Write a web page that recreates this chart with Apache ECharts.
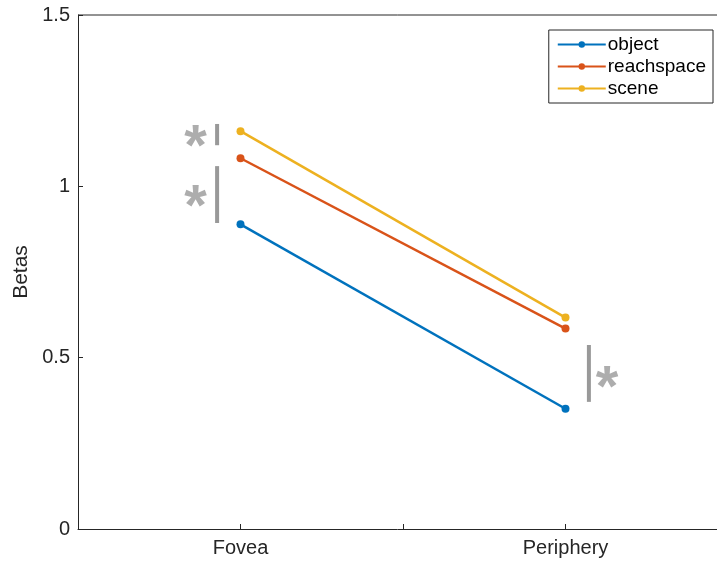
<!DOCTYPE html>
<html>
<head>
<meta charset="utf-8">
<script src="https://cdn.jsdelivr.net/npm/echarts@6/dist/echarts.min.js"></script>
<style>
html, body { margin: 0; padding: 0; background: #fff; }
#main { width: 717px; height: 561px; }
</style>
</head>
<body>
<div id="main"></div>
<script>
var categories = ['Fovea', 'Periphery'];
var categoryPos = [1, 2];
var objectVals = [0.889, 0.351];
var reachVals = [1.082, 0.585];
var sceneVals = [1.161, 0.617];
var yTicks = [0, 0.5, 1, 1.5];
var xTicks = [1, 1.5, 2];

// significance marks: [x, yFrom, yTo] and star positions [x, y]
var sigBars = [[0.928, 1.12, 1.182], [0.928, 0.893, 1.059], [2.072, 0.371, 0.537]];
var sigStars = [[0.862, 1.147], [0.862, 0.972], [2.128, 0.444]];

var chart = echarts.init(document.getElementById('main'));

function pairs(vals) {
    return vals.map(function (v, i) { return [categoryPos[i], v]; });
}

var lineSeries = [
    {name: 'object', vals: objectVals, color: '#0072BD'},
    {name: 'reachspace', vals: reachVals, color: '#D95319'},
    {name: 'scene', vals: sceneVals, color: '#EDB120'}
].map(function (s) {
    return {
        name: s.name,
        type: 'line',
        data: pairs(s.vals),
        symbol: 'circle',
        symbolSize: 8,
        itemStyle: {color: s.color},
        lineStyle: {color: s.color, width: 2.5},
        z: 3
    };
});

var barSeries = sigBars.map(function (b) {
    return {
        type: 'line',
        data: [[b[0], b[1]], [b[0], b[2]]],
        symbol: 'none',
        silent: true,
        lineStyle: {color: '#999999', width: 4}
    };
});

var starSeries = {
    type: 'scatter',
    data: sigStars,
    symbolSize: 0,
    silent: true,
    label: {
        show: true,
        formatter: '*',
        position: 'inside',
        fontSize: 58,
        fontWeight: 'bold',
        color: '#999999',
        fontFamily: 'Liberation Sans',
        offset: [0, 13]
    }
};

var option = {
    animation: false,
    textStyle: {fontFamily: 'Liberation Sans'},
    grid: {left: 78, right: 0, top: 15, bottom: 32, containLabel: false, outerBoundsMode: 'none', show: false},
    legend: {
        data: ['object', 'reachspace', 'scene'],
        orient: 'vertical',
        right: 4,
        top: 30,
        itemWidth: 48,
        itemHeight: 8,
        itemGap: 3,
        padding: [5, 7, 5, 8],
        borderColor: '#262626',
        borderWidth: 1,
        backgroundColor: '#fff',
        textStyle: {fontSize: 19, lineHeight: 19, color: '#000', padding: [0, 0, 0, -3]}
    },
    xAxis: {
        type: 'value',
        min: 0.5,
        max: 0.5 + 639 / 325,
        interval: 0.5,
        axisLine: {show: true, onZero: false, lineStyle: {color: '#262626', width: 1}},
        axisTick: {show: true, inside: true, length: 5, customValues: xTicks, lineStyle: {color: '#262626'}},
        splitLine: {show: false},
        axisLabel: {
            fontSize: 20,
            color: '#262626',
            margin: 9,
            customValues: categoryPos,
            formatter: function (v) {
                var i = categoryPos.indexOf(v);
                return i >= 0 ? categories[i] : '';
            }
        }
    },
    yAxis: {
        type: 'value',
        min: 0,
        max: 1.5,
        interval: 0.5,
        name: 'Betas',
        nameLocation: 'middle',
        nameGap: 43,
        nameTextStyle: {fontSize: 21, color: '#262626'},
        axisLine: {show: true, lineStyle: {color: '#262626', width: 1}},
        axisTick: {show: true, inside: true, length: 5, lineStyle: {color: '#262626'}},
        splitLine: {show: false},
        axisLabel: {
            fontSize: 20,
            color: '#262626',
            margin: 8,
            formatter: function (v) { return yTicks.indexOf(v) >= 0 ? String(v) : ''; }
        }
    },
    series: barSeries.concat(lineSeries).concat([starSeries])
};

chart.setOption(option);

// top box edge like MATLAB's box on
var topY = chart.convertToPixel({gridIndex: 0}, [0.5, 1.5])[1];
chart.setOption({
    graphic: [{
        type: 'line',
        shape: {x1: 78, y1: topY, x2: 717, y2: topY},
        style: {stroke: '#262626', lineWidth: 1},
        silent: true
    }]
});
</script>
</body>
</html>
